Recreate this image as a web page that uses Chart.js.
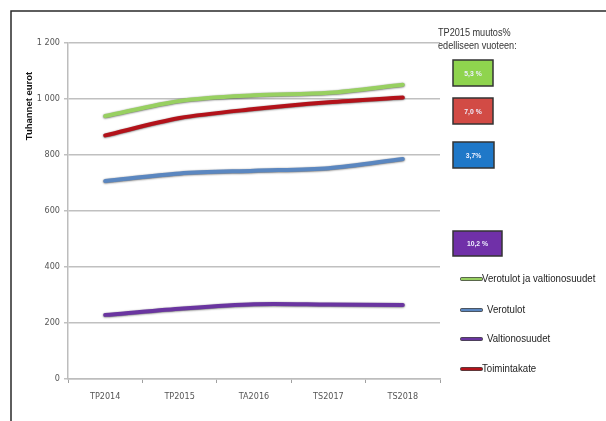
<!DOCTYPE html>
<html>
<head>
<meta charset="utf-8">
<script src="https://cdn.jsdelivr.net/npm/chart.js@4.4.0/dist/chart.umd.min.js"></script>
<style>
html,body{margin:0;padding:0;background:#fff;}
#wrap{width:606px;height:421px;position:relative;}
</style>
</head>
<body>
<div id="wrap"><canvas id="c" width="606" height="421"></canvas></div>
<script>
const categories = ["TP2014", "TP2015", "TA2016", "TS2017", "TS2018"];
const seriesNames = ["Verotulot ja valtionosuudet", "Verotulot", "Valtionosuudet", "Toimintakate"];
const verotulotJaValtionosuudet = [939, 993, 1013, 1022, 1051];
const verotulot = [707, 734, 744, 753, 786];
const valtionosuudet = [229, 251, 267, 266, 264];
const toimintakate = [870, 932, 964, 988, 1005];
const seriesColors = ["#98d061", "#5b87c0", "#6a35a0", "#b3121a"];
const yTicks = [0, 200, 400, 600, 800, 1000, 1200];
const yTitle = "Tuhannet eurot";
const badgeHeading = ["TP2015 muutos%", "edelliseen vuoteen:"];
const badgeLabels = ["5,3 %", "7,0 %", "3,7%", "10,2 %"];
const badgeColors = ["#8fd44e", "#d24b45", "#1f78c8", "#7030a8"];

const NARROW = '"Liberation Sans Narrow", "DejaVu Sans Condensed", "Liberation Sans", sans-serif';

function narrowText(ctx, text, x, y, font, sx, align) {
  ctx.save();
  ctx.font = font;
  ctx.textAlign = align || 'left';
  ctx.textBaseline = 'middle';
  ctx.translate(x, y);
  ctx.scale(sx, 1);
  ctx.fillText(text, 0, 0);
  ctx.restore();
}

const decorPlugin = {
  id: 'decor',
  beforeDraw(chart) {
    const ctx = chart.ctx;
    ctx.save();
    ctx.fillStyle = '#fff';
    ctx.fillRect(0, 0, chart.width, chart.height);
    ctx.restore();
  },
  afterDraw(chart) {
    const ctx = chart.ctx;
    ctx.save();
    // frame
    ctx.strokeStyle = '#2a2a2a';
    ctx.lineWidth = 1.5;
    ctx.beginPath();
    ctx.moveTo(11, 421);
    ctx.lineTo(11, 11);
    ctx.lineTo(606, 11);
    ctx.stroke();
    // y title
    ctx.save();
    ctx.translate(29, 106);
    ctx.rotate(-Math.PI / 2);
    ctx.fillStyle = '#111';
    ctx.font = 'bold 9.5px "Liberation Sans", sans-serif';
    ctx.textAlign = 'center';
    ctx.textBaseline = 'middle';
    ctx.fillText(yTitle, 0, 0);
    ctx.restore();
    // heading
    ctx.fillStyle = '#333';
    narrowText(ctx, badgeHeading[0], 438, 33, '11px "Liberation Sans", sans-serif', 0.83);
    narrowText(ctx, badgeHeading[1], 438, 46, '11px "Liberation Sans", sans-serif', 0.83);
    // badges
    const boxes = [[453, 60, 40, 26], [453, 98, 40, 26], [453, 142, 41, 26], [453, 231, 49, 25]];
    badgeLabels.forEach((lab, i) => {
      const b = boxes[i];
      ctx.fillStyle = badgeColors[i];
      ctx.fillRect(b[0], b[1], b[2], b[3]);
      ctx.strokeStyle = '#333';
      ctx.lineWidth = 1.5;
      ctx.strokeRect(b[0], b[1], b[2], b[3]);
      ctx.fillStyle = '#eef0ff';
      narrowText(ctx, lab, b[0] + b[2] / 2, b[1] + b[3] / 2 + 0.5, 'bold 8px "Liberation Sans", sans-serif', 0.85, 'center');
    });
    // legend
    const ly = [279, 310, 339, 369];
    chart.data.datasets.forEach((ds, i) => {
      const y = ly[i];
      ctx.strokeStyle = '#444';
      ctx.lineWidth = 4;
      ctx.lineCap = 'round';
      ctx.beginPath();
      ctx.moveTo(462, y);
      ctx.lineTo(481, y);
      ctx.stroke();
      ctx.strokeStyle = ds.borderColor;
      ctx.lineWidth = 2.5;
      ctx.beginPath();
      ctx.moveTo(462, y);
      ctx.lineTo(481, y);
      ctx.stroke();
      ctx.fillStyle = '#222';
      narrowText(ctx, ds.label, (i === 1 || i === 2) ? 487 : 482, y, '11.5px "Liberation Sans", sans-serif', 0.84);
    });
    ctx.restore();
  }
};

const shadowPlugin = {
  id: 'shadow',
  beforeDatasetsDraw(chart) {
    const ctx = chart.ctx;
    ctx.save();
    ctx.shadowColor = 'rgba(0,0,0,0.6)';
    ctx.shadowBlur = 2;
    ctx.shadowOffsetX = 0;
    ctx.shadowOffsetY = 0.5;
  },
  afterDatasetsDraw(chart) {
    chart.ctx.restore();
  }
};

const allSeries = [verotulotJaValtionosuudet, verotulot, valtionosuudet, toimintakate];

new Chart(document.getElementById('c'), {
  type: 'line',
  data: {
    labels: categories,
    datasets: allSeries.map((d, i) => ({
      label: seriesNames[i],
      data: d,
      borderColor: seriesColors[i],
      backgroundColor: seriesColors[i],
      borderWidth: 4,
      pointRadius: 0,
      tension: 0.3,
      borderCapStyle: 'round',
      fill: false
    }))
  },
  options: {
    responsive: false,
    animation: false,
    devicePixelRatio: 1,
    layout: { padding: { left: 0, right: 166, top: 43, bottom: 0 } },
    plugins: { legend: { display: false }, tooltip: { enabled: false } },
    scales: {
      x: {
        offset: true,
        grid: { display: true, drawOnChartArea: false, offset: true, tickLength: 4, color: '#a0a0a0', lineWidth: 1 },
        border: { color: '#bdbdbd', width: 1.5 },
        ticks: { color: '#555', font: { family: NARROW, size: 9 }, padding: 8, maxRotation: 0 },
        afterFit(scale) { scale.height = 42; }
      },
      y: {
        min: 0,
        max: 1200,
        afterBuildTicks(scale) { scale.ticks = yTicks.map(v => ({ value: v })); },
        grid: { color: '#c0c0c0', lineWidth: 1.5, tickLength: 4, drawTicks: true },
        border: { color: '#bdbdbd', width: 1.5 },
        ticks: {
          color: '#555',
          font: { family: NARROW, size: 9 },
          padding: 4,
          callback(v) { return v >= 1000 ? String(v).replace(/(\d)(\d{3})$/, '$1 $2') : String(v); }
        },
        afterFit(scale) { scale.width = 68; }
      }
    }
  },
  plugins: [decorPlugin, shadowPlugin]
});
</script>
</body>
</html>
